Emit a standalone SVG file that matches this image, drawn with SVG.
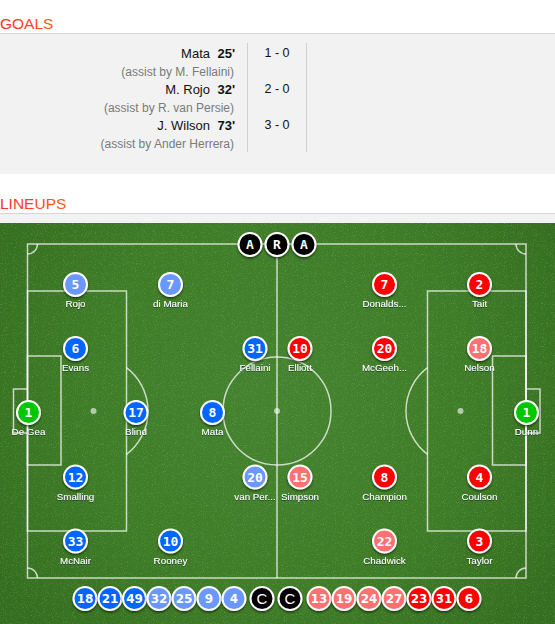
<svg xmlns="http://www.w3.org/2000/svg" width="555" height="624" viewBox="0 0 555 624">
<defs>
<style>
.hdr{font-family:"Liberation Sans",Arial,sans-serif;font-size:15.5px}
.gn{font-family:"Liberation Sans",Arial,sans-serif;font-size:13px;fill:#111;text-anchor:end}
.gm{font-family:"Liberation Sans",Arial,sans-serif;font-size:13px;font-weight:bold;fill:#111;text-anchor:end}
.ga{font-family:"Liberation Sans",Arial,sans-serif;font-size:12px;fill:#7a7a7a;text-anchor:end}
.gs{font-family:"Liberation Sans",Arial,sans-serif;font-size:12.5px;fill:#111;text-anchor:middle}
.ln{fill:none;stroke:#fff;stroke-opacity:0.72;stroke-width:1.5}
.sp{fill:#fff;fill-opacity:0.6}
.pc{stroke:#fff;stroke-width:2;filter:url(#ds)}
.db{fill:#0066ff}.lb{fill:#6b98ff}.rd{fill:#ff0000}.lr{fill:#ff6f6f}.gk{fill:#00c800}.bk{fill:#000}
.num{font-family:"DejaVu Sans Mono",monospace;font-weight:bold;font-size:13px;fill:#fff;text-anchor:middle}
.bnum{font-family:"DejaVu Sans",Verdana,sans-serif;font-weight:bold;font-size:12px;fill:#fff;text-anchor:middle}
.cc{font-family:"Liberation Sans",Arial,sans-serif;font-size:15px;fill:#fff;text-anchor:middle}
.nm{font-family:"Liberation Sans",Arial,sans-serif;font-size:9.8px;fill:#fff;text-anchor:middle;filter:url(#ts)}
</style>
<linearGradient id="hg" x1="0" y1="0" x2="1" y2="0">
<stop offset="0" stop-color="#ff2a2a"/><stop offset="1" stop-color="#ff5a10"/>
</linearGradient>
<radialGradient id="grassg" cx="277" cy="400" r="330" gradientUnits="userSpaceOnUse">
<stop offset="0" stop-color="#448430"/><stop offset="0.6" stop-color="#3e7c27"/><stop offset="1" stop-color="#346d20"/>
</radialGradient>
<filter id="noise" x="0" y="0" width="100%" height="100%">
<feTurbulence type="fractalNoise" baseFrequency="1.1" numOctaves="2" seed="7" result="n"/>
<feColorMatrix in="n" type="matrix" values="0 0 0 0 0.08  0 0 0 0 0.2  0 0 0 0 0.03  -2.2 0 0 0 1.05"/>
</filter>
<filter id="noise2" x="0" y="0" width="100%" height="100%">
<feTurbulence type="fractalNoise" baseFrequency="0.9" numOctaves="2" seed="21" result="n"/>
<feColorMatrix in="n" type="matrix" values="0 0 0 0 0.45  0 0 0 0 0.72  0 0 0 0 0.25  2.2 0 0 0 -1.2"/>
</filter>
<filter id="ds" x="-50%" y="-50%" width="200%" height="200%">
<feDropShadow dx="0" dy="1.5" stdDeviation="1.3" flood-color="#000" flood-opacity="0.6"/>
</filter>
<filter id="ts" x="-20%" y="-50%" width="140%" height="200%">
<feDropShadow dx="0" dy="0.6" stdDeviation="0.6" flood-color="#0a1a40" flood-opacity="0.9"/>
</filter>
</defs>

<rect width="555" height="624" fill="#fff"/>

<g id="goals">
<text class="hdr" x="0" y="29" fill="url(#hg)">GOALS</text>
<rect x="0" y="33" width="555" height="141" fill="#f2f2f2"/>
<line x1="0" y1="33.5" x2="555" y2="33.5" stroke="#d4d4d4" stroke-width="1"/>
<line x1="247.5" y1="43" x2="247.5" y2="152" stroke="#d0d0d0"/>
<line x1="306.5" y1="43" x2="306.5" y2="152" stroke="#d0d0d0"/>
<text class="gn" x="210" y="57.5">Mata</text><text class="gm" x="235" y="57.5">25'</text>
<text class="ga" x="234" y="75.5">(assist by M. Fellaini)</text>
<text class="gs" x="277" y="57">1 - 0</text>
<text class="gn" x="210" y="93.5">M. Rojo</text><text class="gm" x="235" y="93.5">32'</text>
<text class="ga" x="234" y="111.5">(assist by R. van Persie)</text>
<text class="gs" x="277" y="93">2 - 0</text>
<text class="gn" x="210" y="129.5">J. Wilson</text><text class="gm" x="235" y="129.5">73'</text>
<text class="ga" x="234" y="147.5">(assist by Ander Herrera)</text>
<text class="gs" x="277" y="129">3 - 0</text>
</g>

<g id="lineups-header">
<text class="hdr" x="0" y="209" fill="url(#hg)">LINEUPS</text>
<rect x="0" y="213" width="555" height="10" fill="#f2f2f2"/>
<line x1="0" y1="213.5" x2="555" y2="213.5" stroke="#d4d4d4" stroke-width="1"/>
</g>

<g id="pitch">
<rect x="0" y="223" width="555" height="401" fill="url(#grassg)"/>
<rect x="0" y="223" width="555" height="401" filter="url(#noise)" opacity="0.5"/>
<rect x="0" y="223" width="555" height="401" filter="url(#noise2)" opacity="0.4"/>
<g id="markings">
<rect class="ln" x="27.5" y="244" width="498.5" height="334"/>
<line class="ln" x1="277" y1="244" x2="277" y2="578"/>
<circle class="ln" cx="277" cy="411" r="54"/>
<circle class="sp" cx="277" cy="411" r="3"/>
<rect class="ln" x="27.5" y="291" width="99" height="240"/>
<rect class="ln" x="427.5" y="291" width="98.5" height="240"/>
<rect class="ln" x="27.5" y="356" width="33.5" height="109"/>
<rect class="ln" x="492.5" y="356" width="33.5" height="109"/>
<path class="ln" d="M27.5 389 H13.5 V433 H27.5"/>
<path class="ln" d="M526 389 H540 V433 H526"/>
<circle class="sp" cx="93.5" cy="411" r="3"/>
<circle class="sp" cx="460.5" cy="411" r="3"/>
<path class="ln" d="M126.5 367.6 A54.5 54.5 0 0 1 126.5 454.4"/>
<path class="ln" d="M427.5 367.6 A54.5 54.5 0 0 0 427.5 454.4"/>
<path class="ln" d="M27.5 254 A10 10 0 0 0 37.5 244"/>
<path class="ln" d="M516 244 A10 10 0 0 0 526 254"/>
<path class="ln" d="M27.5 568 A10 10 0 0 1 37.5 578"/>
<path class="ln" d="M516 578 A10 10 0 0 1 526 568"/>
</g>
</g>

<g id="referees">
<g id="ref-a1"><circle class="pc bk" cx="250" cy="244.5" r="11.5"/><text class="num" x="250" y="249">A</text></g>
<g id="ref-r"><circle class="pc bk" cx="277" cy="244.5" r="11.5"/><text class="num" x="277" y="249">R</text></g>
<g id="ref-a2"><circle class="pc bk" cx="304" cy="244.5" r="11.5"/><text class="num" x="304" y="249">A</text></g>
</g>

<g id="home">
<g id="p-rojo"><circle class="pc lb" cx="75.5" cy="284.5" r="11.5"/><text class="num" x="75.5" y="289">5</text><text class="nm" x="75.5" y="307">Rojo</text></g>
<g id="p-dimaria"><circle class="pc lb" cx="170.5" cy="284.5" r="11.5"/><text class="num" x="170.5" y="289">7</text><text class="nm" x="170.5" y="307">di Maria</text></g>
<g id="p-evans"><circle class="pc db" cx="75.5" cy="348.5" r="11.5"/><text class="num" x="75.5" y="353">6</text><text class="nm" x="75.5" y="371">Evans</text></g>
<g id="p-fellaini"><circle class="pc db" cx="255" cy="348.5" r="11.5"/><text class="num" x="255" y="353">31</text><text class="nm" x="255" y="371">Fellaini</text></g>
<g id="p-degea"><circle class="pc gk" cx="28.5" cy="412.5" r="11.5"/><text class="num" x="28.5" y="417">1</text><text class="nm" x="28.5" y="435">De Gea</text></g>
<g id="p-blind"><circle class="pc db" cx="136" cy="412.5" r="11.5"/><text class="num" x="136" y="417">17</text><text class="nm" x="136" y="435">Blind</text></g>
<g id="p-mata"><circle class="pc db" cx="212.5" cy="412.5" r="11.5"/><text class="num" x="212.5" y="417">8</text><text class="nm" x="212.5" y="435">Mata</text></g>
<g id="p-smalling"><circle class="pc db" cx="75.5" cy="477" r="11.5"/><text class="num" x="75.5" y="481.5">12</text><text class="nm" x="75.5" y="499.5">Smalling</text></g>
<g id="p-vanpersie"><circle class="pc lb" cx="255" cy="477" r="11.5"/><text class="num" x="255" y="481.5">20</text><text class="nm" x="255" y="499.5">van Per...</text></g>
<g id="p-mcnair"><circle class="pc db" cx="75.5" cy="541" r="11.5"/><text class="num" x="75.5" y="545.5">33</text><text class="nm" x="75.5" y="563.5">McNair</text></g>
<g id="p-rooney"><circle class="pc db" cx="170.5" cy="541" r="11.5"/><text class="num" x="170.5" y="545.5">10</text><text class="nm" x="170.5" y="563.5">Rooney</text></g>
</g>

<g id="away">
<g id="p-donaldson"><circle class="pc rd" cx="384.5" cy="284.5" r="11.5"/><text class="num" x="384.5" y="289">7</text><text class="nm" x="384.5" y="307">Donalds...</text></g>
<g id="p-tait"><circle class="pc rd" cx="479.5" cy="284.5" r="11.5"/><text class="num" x="479.5" y="289">2</text><text class="nm" x="479.5" y="307">Tait</text></g>
<g id="p-elliott"><circle class="pc rd" cx="300" cy="348.5" r="11.5"/><text class="num" x="300" y="353">10</text><text class="nm" x="300" y="371">Elliott</text></g>
<g id="p-mcgeehan"><circle class="pc rd" cx="384.5" cy="348.5" r="11.5"/><text class="num" x="384.5" y="353">20</text><text class="nm" x="384.5" y="371">McGeeh...</text></g>
<g id="p-nelson"><circle class="pc lr" cx="479.5" cy="348.5" r="11.5"/><text class="num" x="479.5" y="353">18</text><text class="nm" x="479.5" y="371">Nelson</text></g>
<g id="p-dunn"><circle class="pc gk" cx="526.5" cy="412.5" r="11.5"/><text class="num" x="526.5" y="417">1</text><text class="nm" x="526.5" y="435">Dunn</text></g>
<g id="p-simpson"><circle class="pc lr" cx="300" cy="477" r="11.5"/><text class="num" x="300" y="481.5">15</text><text class="nm" x="300" y="499.5">Simpson</text></g>
<g id="p-champion"><circle class="pc rd" cx="384.5" cy="477" r="11.5"/><text class="num" x="384.5" y="481.5">8</text><text class="nm" x="384.5" y="499.5">Champion</text></g>
<g id="p-coulson"><circle class="pc rd" cx="479.5" cy="477" r="11.5"/><text class="num" x="479.5" y="481.5">4</text><text class="nm" x="479.5" y="499.5">Coulson</text></g>
<g id="p-chadwick"><circle class="pc lr" cx="384.5" cy="541" r="11.5"/><text class="num" x="384.5" y="545.5">22</text><text class="nm" x="384.5" y="563.5">Chadwick</text></g>
<g id="p-taylor"><circle class="pc rd" cx="479.5" cy="541" r="11.5"/><text class="num" x="479.5" y="545.5">3</text><text class="nm" x="479.5" y="563.5">Taylor</text></g>
</g>

<g id="bench">
<g id="b-18"><circle class="pc db" cx="85" cy="598.5" r="11.5"/><text class="bnum" x="85" y="603">18</text></g>
<g id="b-21"><circle class="pc db" cx="110" cy="598.5" r="11.5"/><text class="bnum" x="110" y="603">21</text></g>
<g id="b-49"><circle class="pc db" cx="134.5" cy="598.5" r="11.5"/><text class="bnum" x="134.5" y="603">49</text></g>
<g id="b-32"><circle class="pc lb" cx="159" cy="598.5" r="11.5"/><text class="bnum" x="159" y="603">32</text></g>
<g id="b-25"><circle class="pc lb" cx="184" cy="598.5" r="11.5"/><text class="bnum" x="184" y="603">25</text></g>
<g id="b-9"><circle class="pc lb" cx="209" cy="598.5" r="11.5"/><text class="bnum" x="209" y="603">9</text></g>
<g id="b-4"><circle class="pc lb" cx="234" cy="598.5" r="11.5"/><text class="bnum" x="234" y="603">4</text></g>
<g id="b-c1"><circle class="pc bk" cx="262" cy="598.5" r="11.5"/><text class="cc" x="262" y="604">C</text></g>
<g id="b-c2"><circle class="pc bk" cx="290" cy="598.5" r="11.5"/><text class="cc" x="290" y="604">C</text></g>
<g id="b-13"><circle class="pc lr" cx="319" cy="598.5" r="11.5"/><text class="bnum" x="319" y="603">13</text></g>
<g id="b-19"><circle class="pc lr" cx="344" cy="598.5" r="11.5"/><text class="bnum" x="344" y="603">19</text></g>
<g id="b-24"><circle class="pc lr" cx="369" cy="598.5" r="11.5"/><text class="bnum" x="369" y="603">24</text></g>
<g id="b-27"><circle class="pc lr" cx="394" cy="598.5" r="11.5"/><text class="bnum" x="394" y="603">27</text></g>
<g id="b-23"><circle class="pc rd" cx="419" cy="598.5" r="11.5"/><text class="bnum" x="419" y="603">23</text></g>
<g id="b-31"><circle class="pc rd" cx="444" cy="598.5" r="11.5"/><text class="bnum" x="444" y="603">31</text></g>
<g id="b-6"><circle class="pc rd" cx="469" cy="598.5" r="11.5"/><text class="bnum" x="469" y="603">6</text></g>
</g>
<g id="connectors"/>
</svg>
